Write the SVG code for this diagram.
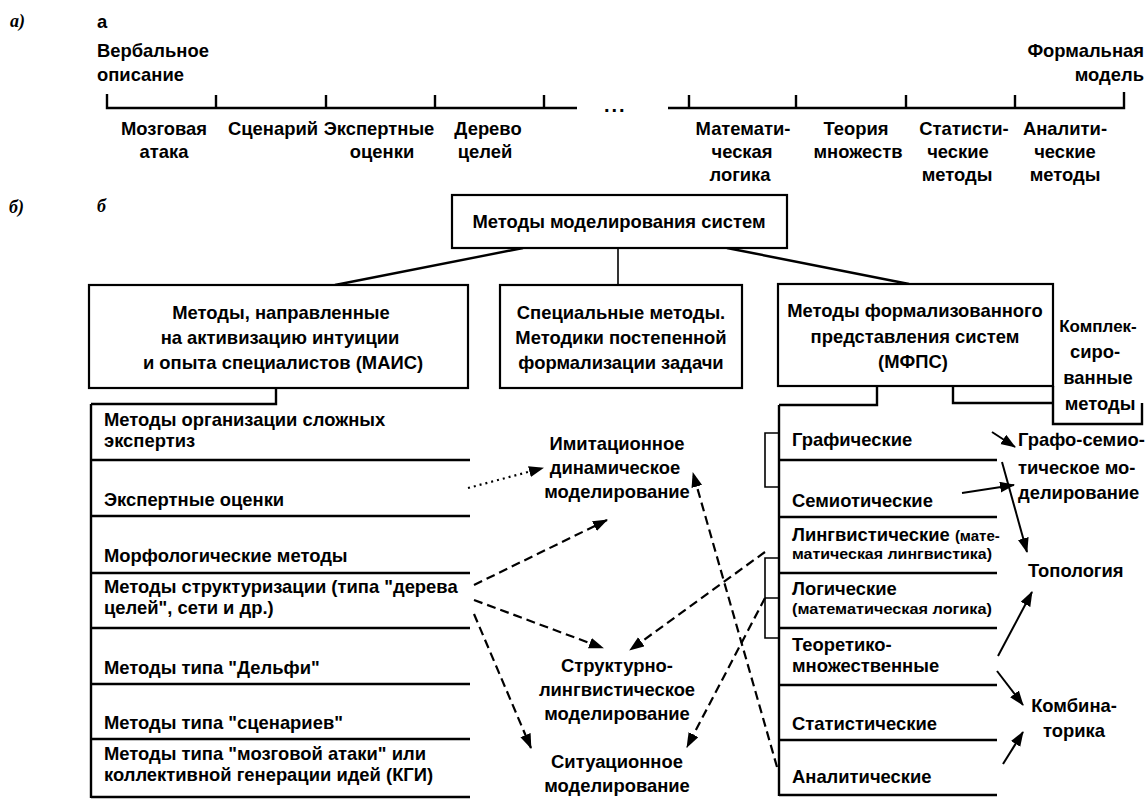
<svg xmlns="http://www.w3.org/2000/svg" width="1146" height="809" viewBox="0 0 1146 809">
  <style>
    .t { font-family: "Liberation Sans", Arial, sans-serif; font-weight: bold; font-size: 18.4px; fill: #000; }
    .c { text-anchor: middle; }
    .r { text-anchor: end; }
    .sm { font-size: 15px; }
    .lbl { font-family: "Liberation Serif", "Times New Roman", serif; font-style: italic; font-weight: bold; font-size: 18px; }
    .box { fill: #fff; stroke: #000; stroke-width: 2.2; }
    .ln { fill: none; stroke: #000; stroke-width: 2.4; }
    .thin { fill: none; stroke: #000; stroke-width: 1.6; }
    .dash { fill: none; stroke: #000; stroke-width: 2.2; stroke-dasharray: 9 5; }
    .dot { fill: none; stroke: #000; stroke-width: 2.2; stroke-dasharray: 2 4; }
    .sol { fill: none; stroke: #000; stroke-width: 2; }
  </style>
  <defs>
    <marker id="ah" markerUnits="userSpaceOnUse" markerWidth="15" markerHeight="12" refX="14" refY="5.5" orient="auto">
      <path d="M0,0 L15,5.5 L0,11 z" fill="#000"/>
    </marker>
  </defs>

  <rect width="1146" height="809" fill="#fff"/>

  <!-- Part a: scale from verbal description to formal model -->
  <g id="part-a">
    <text class="lbl" x="10" y="27">а)</text>
    <text class="t" x="97" y="28">а</text>
    <text class="t" x="97" y="57">Вербальное</text>
    <text class="t" x="97" y="81">описание</text>
    <text class="t r" x="1144" y="57">Формальная</text>
    <text class="t r" x="1144" y="81">модель</text>

    <path class="ln" d="M107,94 V108 H577 M216,95 V108 M326,95 V108 M435,95 V108 M544,95 V108"/>
    <text class="t" x="604" y="112" style="font-size:20px;letter-spacing:2px">...</text>
    <path class="ln" d="M668,108 H1124 V92 M689,95 V108 M796,95 V108 M906,95 V108 M1015,95 V108"/>

    <text class="t c" x="164" y="135">Мозговая</text>
    <text class="t c" x="164" y="158">атака</text>
    <text class="t c" x="273" y="135">Сценарий</text>
    <text class="t c" x="379" y="135">Экспертные</text>
    <text class="t c" x="382" y="158">оценки</text>
    <text class="t c" x="488" y="135">Дерево</text>
    <text class="t c" x="485" y="158">целей</text>
    <text class="t c" x="743" y="135">Математи-</text>
    <text class="t c" x="742" y="158">ческая</text>
    <text class="t c" x="740" y="181">логика</text>
    <text class="t c" x="856" y="135">Теория</text>
    <text class="t c" x="858" y="158">множеств</text>
    <text class="t c" x="964" y="135">Статисти-</text>
    <text class="t c" x="958" y="158">ческие</text>
    <text class="t c" x="957" y="181">методы</text>
    <text class="t c" x="1065" y="135">Аналити-</text>
    <text class="t c" x="1065" y="158">ческие</text>
    <text class="t c" x="1065" y="181">методы</text>
  </g>

  <!-- Part b: classification of system modelling methods -->
  <text class="lbl" x="9" y="213">б)</text>
  <text class="lbl" x="97" y="212">б</text>

  <g id="connectors">
    <!-- hierarchy links -->
    <path class="ln" d="M523,248 L335,285"/>
    <path class="thin" d="M618,248 V284"/>
    <path class="ln" d="M727,248 L909,284"/>
    <path class="ln" d="M276,388 V404 H91"/>
    <path class="ln" d="M877,386 V405 H779"/>
    <path class="ln" d="M953,386 V403 H1053"/>

    <!-- from intuitive methods to modelling approaches -->
    <path class="dot" d="M468,488 L543,468" marker-end="url(#ah)"/>
    <path class="dash" d="M474,585 L607,520" marker-end="url(#ah)"/>
    <path class="dash" d="M474,600 L603,648" marker-end="url(#ah)"/>
    <path class="dash" d="M474,614 L531,748" marker-end="url(#ah)"/>

    <!-- from formal methods to modelling approaches -->
    <path class="dash" d="M765,552 L630,650" marker-end="url(#ah)"/>
    <path class="dash" d="M765,598 L687,747" marker-end="url(#ah)"/>
    <path class="dash" d="M777,767 L693,473" marker-end="url(#ah)"/>

    <!-- formal methods to combined disciplines -->
    <path class="sol" d="M992,432 L1015,447" marker-end="url(#ah)"/>
    <path class="sol" d="M962,493 L1014,485" marker-end="url(#ah)"/>
    <path class="sol" d="M1002,462 L1027,552" marker-end="url(#ah)"/>
    <path class="sol" d="M998,656 L1032,592" marker-end="url(#ah)"/>
    <path class="sol" d="M997,671 L1023,705" marker-end="url(#ah)"/>
    <path class="sol" d="M1003,764 L1023,732" marker-end="url(#ah)"/>
  </g>

  <g id="root">
    <rect class="box" x="452" y="195" width="335" height="53"/>
    <text class="t c" x="619" y="228">Методы моделирования систем</text>
  </g>

  <g id="mais">
    <rect class="box" x="89" y="285" width="379" height="103"/>
    <text class="t c" x="281" y="319">Методы, направленные</text>
    <text class="t c" x="280" y="344">на активизацию интуиции</text>
    <text class="t c" x="283" y="369">и опыта специалистов (МАИС)</text>
  </g>

  <g id="special">
    <rect class="box" x="500" y="285" width="242" height="103"/>
    <text class="t c" x="621" y="319">Специальные методы.</text>
    <text class="t c" x="621" y="344">Методики постепенной</text>
    <text class="t c" x="621" y="369">формализации задачи</text>
  </g>

  <g id="mfps">
    <rect class="box" x="778" y="284" width="275" height="102"/>
    <text class="t c" x="915" y="317">Методы формализованного</text>
    <text class="t c" x="915" y="343">представления систем</text>
    <text class="t c" x="913" y="368">(МФПС)</text>
  </g>

  <g id="complex">
    <path class="ln" d="M1053,386 V424 H1142 V403"/>
    <text class="t c" x="1098" y="332" style="font-size:17px">Комплек-</text>
    <text class="t c" x="1095" y="358">сиро-</text>
    <text class="t c" x="1098" y="384">ванные</text>
    <text class="t c" x="1100" y="410">методы</text>
  </g>

  <g id="mais-list">
    <path class="ln" d="M91,404 V798 M91,460 H470 M91,516 H470 M91,573 H470 M91,628 H470 M91,684 H470 M91,739 H470 M91,797 H470"/>
    <text class="t" x="104" y="426">Методы организации сложных</text>
    <text class="t" x="104" y="447">экспертиз</text>
    <text class="t" x="104" y="506">Экспертные оценки</text>
    <text class="t" x="104" y="562">Морфологические методы</text>
    <text class="t" x="104" y="593">Методы структуризации (типа "дерева</text>
    <text class="t" x="104" y="614">целей", сети и др.)</text>
    <text class="t" x="104" y="674">Методы типа "Дельфи"</text>
    <text class="t" x="104" y="729">Методы типа "сценариев"</text>
    <text class="t" x="104" y="760">Методы типа "мозговой атаки" или</text>
    <text class="t" x="104" y="781">коллективной генерации идей (КГИ)</text>
  </g>

  <g id="mfps-list">
    <path class="ln" d="M779,405 V796 M779,460 H997 M779,517 H997 M779,573 H997 M779,628 H997 M779,685 H997 M779,740 H997 M779,795 H997"/>
    <path class="thin" d="M779,433 H765 V487 H779 M779,558 H765 V638 H779 M765,598 H779"/>
    <text class="t" x="792" y="446">Графические</text>
    <text class="t" x="792" y="507">Семиотические</text>
    <text class="t" x="792" y="541">Лингвистические <tspan class="sm">(мате-</tspan></text>
    <text class="t sm" x="792" y="559" textLength="200" lengthAdjust="spacingAndGlyphs">матическая лингвистика)</text>
    <text class="t" x="792" y="595">Логические</text>
    <text class="t sm" x="792" y="614" textLength="200" lengthAdjust="spacingAndGlyphs">(математическая логика)</text>
    <text class="t" x="792" y="651">Теоретико-</text>
    <text class="t" x="792" y="672">множественные</text>
    <text class="t" x="792" y="730">Статистические</text>
    <text class="t" x="792" y="783">Аналитические</text>
  </g>

  <g id="imitation">
    <text class="t c" x="617" y="450">Имитационное</text>
    <text class="t c" x="615" y="474">динамическое</text>
    <text class="t c" x="617" y="498">моделирование</text>
  </g>

  <g id="structural">
    <text class="t c" x="617" y="672">Структурно-</text>
    <text class="t c" x="617" y="696">лингвистическое</text>
    <text class="t c" x="617" y="720">моделирование</text>
  </g>

  <g id="situational">
    <text class="t c" x="617" y="768">Ситуационное</text>
    <text class="t c" x="617" y="792">моделирование</text>
  </g>

  <g id="grapho-semiotic">
    <text class="t" x="1018" y="446">Графо-семио-</text>
    <text class="t" x="1018" y="474">тическое мо-</text>
    <text class="t" x="1018" y="499">делирование</text>
  </g>

  <g id="topology">
    <text class="t" x="1028" y="577">Топология</text>
  </g>

  <g id="combinatorics">
    <text class="t c" x="1074" y="712">Комбина-</text>
    <text class="t c" x="1074" y="737">торика</text>
  </g>
</svg>
